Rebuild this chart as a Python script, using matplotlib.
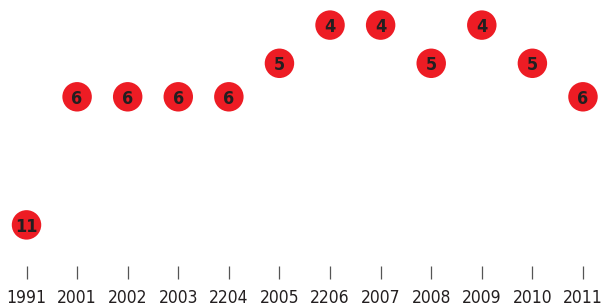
import numpy as np
import matplotlib.pyplot as plt

years = ["1991", "2001", "2002", "2003", "2204", "2005",
         "2206", "2007", "2008", "2009", "2010", "2011"]
ranks = [11, 6, 6, 6, 6, 5, 4, 4, 5, 4, 5, 6]

RED = "#ED1C24"
DARK = "#231F20"

p = 0.35  # compressed rank scale


def fwd(v):
    return np.power(np.clip(v, 1e-9, None), p)


def inv(t):
    return np.power(np.clip(t, 1e-9, None), 1 / p)


fig = plt.figure(figsize=(6.02, 3.06), dpi=100)
ax = fig.add_axes([0, 40 / 306, 1, 266 / 306])

x = np.arange(len(years))
ax.scatter(x, ranks, s=450, color=RED, edgecolors="none", zorder=2)
for xi, r in zip(x, ranks):
    ax.text(xi, r, str(r), ha="center", va="center_baseline", fontsize=13,
            fontweight="bold", color=DARK, family="DejaVu Sans",
            fontstretch="condensed", zorder=3)

ax.set_yscale("function", functions=(fwd, inv))
ax.set_ylim(13.04, 3.42)
ax.set_xlim(-0.524, 11.376)

ax.set_xticks(x)
ax.set_xticklabels(years, family="DejaVu Sans", fontstretch="condensed",
                   fontsize=12.5, color=DARK)
ax.tick_params(axis="x", direction="out", length=9.5, width=0.9,
               color="#555555", pad=7)
ax.set_yticks([])
ax.yaxis.set_minor_locator(plt.NullLocator())
for s in ax.spines.values():
    s.set_visible(False)

fig.savefig("out.png", dpi=100)
